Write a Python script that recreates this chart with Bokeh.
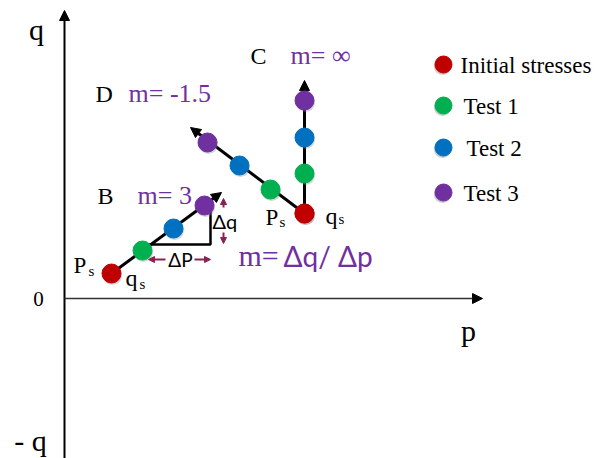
from bokeh.plotting import figure
from bokeh.models import Arrow, NormalHead, Range1d
from bokeh.core.properties import value
from bokeh.embed import file_html
from bokeh.resources import INLINE

# Stress paths in the p-q plane (drawing units, origin at p=0, q=0)
stage_names = ["Initial stresses", "Test 1", "Test 2", "Test 3"]
stage_colors = ["#C00000", "#00B050", "#0070C0", "#7030A0"]

path_B_p = [47, 78, 109, 140]
path_B_q = [25, 48, 70, 93]
path_B_tip = (157, 106)

path_C_p = [240, 240, 240, 240]
path_C_q = [85, 125, 161, 198]
path_C_tip = (240, 218)

path_D_p = [240, 206, 175, 143]
path_D_q = [85, 109, 133, 156]
path_D_tip = (126, 171)

slope_labels = ["m= 3", "m= \u221e", "m= -1.5"]
path_names = ["B", "C", "D"]

SERIF = value("Liberation Serif")
SANS = value("Lato")
PURPLE = "#7030A0"
MAROON = "#8B2252"

p = figure(width=600, height=458, output_backend="svg", toolbar_location=None,
           x_range=Range1d(-64, 536), y_range=Range1d(-160, 298),
           min_border=0, outline_line_color=None)
p.axis.visible = False
p.grid.visible = False

# coordinate axes with arrow heads
p.add_layout(Arrow(end=NormalHead(size=10, fill_color="black", line_color="black"),
                   x_start=0, y_start=-160, x_end=0, y_end=288,
                   line_color="black", line_width=2))
p.add_layout(Arrow(end=NormalHead(size=10, fill_color="black", line_color="black"),
                   x_start=0, y_start=0, x_end=418, y_end=0,
                   line_color="#333333", line_width=1.5))

# axis labels
p.text(x=[-28], y=[269], text=["q"], text_font=SERIF, text_font_size="30px",
       text_align="center", text_baseline="middle")
p.text(x=[-26], y=[0], text=["0"], text_font=SERIF, text_font_size="21px",
       text_align="center", text_baseline="middle")
p.text(x=[-34], y=[-142], text=["- q"], text_font=SERIF, text_font_size="30px",
       text_align="center", text_baseline="middle")
p.text(x=[404], y=[-32], text=["p"], text_font=SERIF, text_font_size="30px",
       text_align="center", text_baseline="middle")

# stress paths: line from the initial point to an arrow tip, drawn beneath the points
for ps, qs, tip in [(path_B_p, path_B_q, path_B_tip),
                    (path_C_p, path_C_q, path_C_tip),
                    (path_D_p, path_D_q, path_D_tip)]:
    arr = Arrow(end=NormalHead(size=10, fill_color="black", line_color="black"),
                x_start=ps[0], y_start=qs[0], x_end=tip[0], y_end=tip[1],
                line_color="black", line_width=3)
    arr.level = "underlay"
    p.add_layout(arr)

# slope triangle on path B
tri_p0, tri_p1 = 84, 146
tri_q0, tri_q1 = 54, 95
p.line([tri_p0, tri_p1, tri_p1], [tri_q0, tri_q0, tri_q1], line_color="black", line_width=2.5)

for ps, qs in [(path_B_p, path_B_q), (path_C_p, path_C_q), (path_D_p, path_D_q)]:
    p.scatter([v + 1 for v in ps], [v - 2 for v in qs], size=19,
              fill_color="#888888", line_color=None, fill_alpha=0.35)
    p.scatter(ps, qs, size=19, fill_color=stage_colors, line_color=stage_colors)

# delta markers
for xs, ys, xe, ye in [(159, 91, 159, 100), (159, 66, 159, 55),
                       (101, 39, 84, 39), (130, 39, 146, 39)]:
    p.add_layout(Arrow(end=NormalHead(size=6, fill_color=MAROON, line_color=MAROON),
                       x_start=xs, y_start=ys, x_end=xe, y_end=ye,
                       line_color=MAROON, line_width=2))
p.text(x=[148], y=[78], text=["\u0394q"], text_font=SANS, text_font_size="20px",
       text_align="left", text_baseline="middle")
p.text(x=[116], y=[39], text=["\u0394P"], text_font=SANS, text_font_size="19px",
       text_align="center", text_baseline="middle")

# path names and slopes
p.text(x=[33, 186, 31], y=[103, 243, 205], text=path_names, text_font=SERIF,
       text_font_size="24px", text_align="left", text_baseline="middle")
p.text(x=[73, 226, 64], y=[103, 243, 205], text=slope_labels, text_font=SERIF,
       text_font_size="26px", text_align="left", text_baseline="middle",
       text_color=PURPLE)

# initial stress labels
p.text(x=[9, 201], y=[33, 81], text=["P", "P"], text_font=SERIF, text_font_size="23px",
       text_align="left", text_baseline="middle")
p.text(x=[24, 215], y=[28, 77], text=["s", "s"], text_font=SERIF, text_font_size="15px",
       text_align="left", text_baseline="middle")
p.text(x=[61, 261], y=[21, 83], text=["q", "q"], text_font=SERIF, text_font_size="24px",
       text_align="left", text_baseline="middle")
p.text(x=[75, 274], y=[15, 80], text=["s", "s"], text_font=SERIF, text_font_size="15px",
       text_align="left", text_baseline="middle")

# slope definition
p.text(x=[174], y=[43], text=["m="], text_font=SERIF, text_font_size="30px",
       text_align="left", text_baseline="middle", text_color=PURPLE)
p.text(x=[219], y=[43], text=["\u0394q/ \u0394p"], text_font=SANS, text_font_size="28px",
       text_align="left", text_baseline="middle", text_color=PURPLE)

# legend
legend_p = [379, 379, 379, 379]
legend_q = [234, 193, 151, 106]
p.scatter([v - 1 for v in legend_p], [v - 2 for v in legend_q], size=17,
          fill_color="#999999", line_color=None, fill_alpha=0.5)
p.scatter(legend_p, legend_q, size=17, fill_color=stage_colors, line_color=stage_colors)
p.text(x=[396, 399, 402, 399], y=[v - 1 for v in legend_q], text=stage_names,
       text_font=SERIF, text_font_size="23px", text_align="left", text_baseline="middle")

open("out.html", "w").write(file_html(p, INLINE))
